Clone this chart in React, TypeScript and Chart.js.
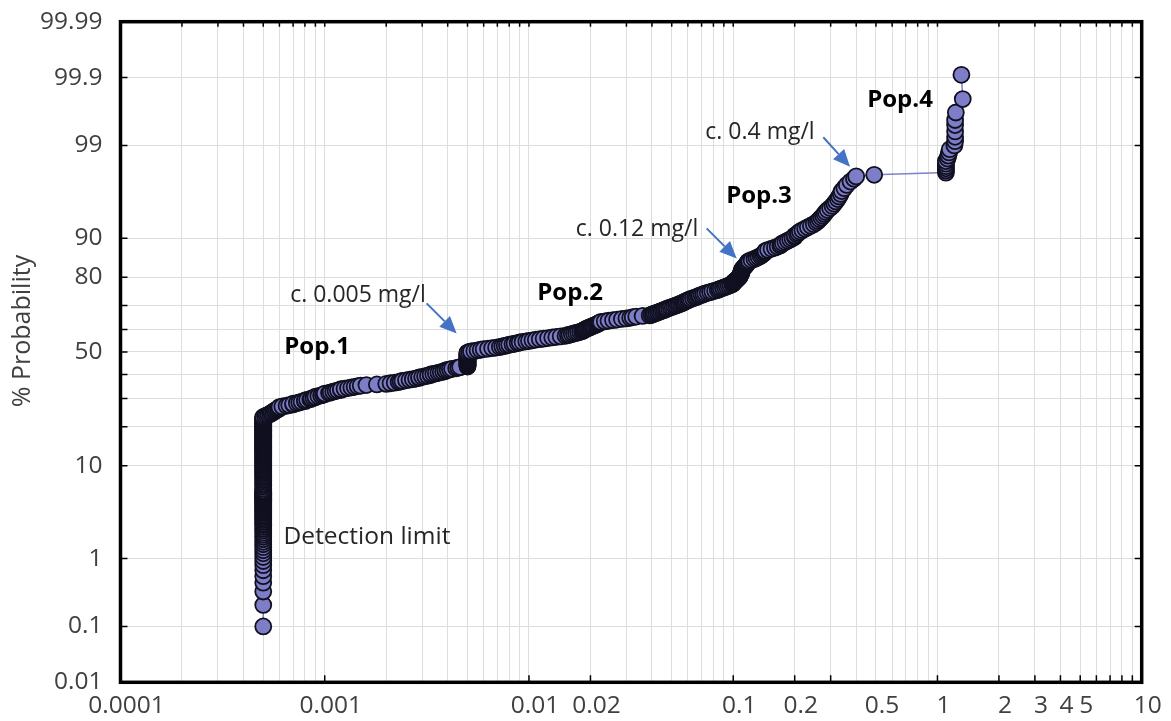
import React, { useEffect, useRef } from 'react';
import { Chart, registerables } from 'chart.js';

Chart.register(...registerables);

// ---------------- DATA ----------------
// Concentration (mg/l) on x, cumulative probability (%) on y.

// Values at the detection limit (vertical stack)
const detectionLimitX = 0.0005;
const detectionLimitProb = [
  0.1, 0.22, 0.35, 0.47, 0.58, 0.7, 0.82, 0.93, 1.05, 1.17, 1.28, 1.4, 1.52, 1.63, 1.75, 1.87,
  1.98, 2.1, 2.22, 2.33, 2.45, 2.57, 2.68, 2.8, 2.92, 3.03, 3.15, 3.27, 3.38, 3.5, 3.62, 3.73,
  3.85, 3.97, 4.08, 4.2, 4.32, 4.43, 4.55, 4.67, 4.78, 4.9, 5.02, 5.13, 5.25, 5.37, 5.48, 5.6,
  5.72, 5.83, 5.95, 6.2, 6.45, 6.7, 6.95, 7.2, 7.45, 7.7, 7.95, 8.2, 8.45, 8.7, 8.95, 9.2, 9.45,
  9.7, 9.95, 10.2, 10.45, 10.7, 10.95, 11.2, 11.45, 11.7, 11.95, 12.2, 12.45, 12.7, 12.95, 13.2,
  13.45, 13.7, 13.95, 14.2, 14.45, 14.7, 14.95, 15.2, 15.45, 15.7, 15.95, 16.2, 16.45, 16.7,
  16.95, 17.2, 17.45, 17.7, 17.95, 18.2, 18.45, 18.7, 18.95, 19.2, 19.45, 19.7, 19.95, 20.2,
  20.45, 20.7, 20.95, 21.2, 21.45, 21.7, 21.95, 22.2, 22.45, 22.7, 22.95, 23.2,
];

// Pop.1 sloping part [x, %]
const pop1Slope: [number, number][] = [
  [0.00051, 23.5], [0.00052, 23.75], [0.00053, 24.0], [0.00054, 24.25], [0.00055, 24.5],
  [0.00055, 24.75], [0.00056, 25.0], [0.00057, 25.25], [0.00057, 25.5], [0.00058, 25.75],
  [0.00059, 26.0], [0.0006, 26.25], [0.0006, 26.5], [0.0006, 26.75], [0.00062, 27.0],
  [0.00065, 27.25], [0.00067, 27.5], [0.0007, 27.75], [0.0007, 28.0], [0.00073, 28.25],
  [0.00075, 28.5], [0.00077, 28.75], [0.0008, 29.0], [0.0008, 29.25], [0.00082, 29.5],
  [0.00085, 29.75], [0.00086, 30.0], [0.00088, 30.25], [0.0009, 30.5], [0.0009, 30.75],
  [0.00093, 31.0], [0.00096, 31.25], [0.00098, 31.5], [0.001, 31.75], [0.001, 32.0],
  [0.00105, 32.25], [0.00107, 32.5], [0.0011, 32.75], [0.00113, 33.0], [0.00116, 33.25],
  [0.0012, 33.5], [0.0012, 33.75], [0.00125, 34.0], [0.0013, 34.25], [0.00135, 34.5],
  [0.0014, 34.75], [0.00145, 35.0], [0.0015, 35.25], [0.0016, 35.5], [0.0018, 35.75],
  [0.002, 36.0], [0.0021, 36.25], [0.0022, 36.5], [0.0023, 36.75], [0.00235, 37.0],
  [0.0024, 37.25], [0.0025, 37.5], [0.0026, 37.75], [0.0027, 38.0], [0.0028, 38.25],
  [0.0029, 38.5], [0.0029, 38.75], [0.003, 39.0], [0.0031, 39.25], [0.0032, 39.5],
  [0.0033, 39.75], [0.0033, 40.0], [0.0034, 40.25], [0.0035, 40.5], [0.0036, 40.75],
  [0.0037, 41.0], [0.0038, 41.25], [0.0039, 41.5], [0.0039, 41.75], [0.004, 42.0],
  [0.0041, 42.25], [0.0042, 42.5], [0.0044, 42.75], [0.0045, 43.0], [0.0046, 43.25],
];

// Values at c. 0.005 mg/l (vertical step)
const step005X = 0.005;
const step005Prob = [
  43.5, 43.75, 44.0, 44.25, 44.5, 44.75, 45.0, 45.25, 45.5, 45.75, 46.0, 46.25, 46.5,
  46.75, 47.0, 47.25, 47.5, 47.75, 48.0, 48.25, 48.5, 48.75, 49.0, 49.25, 49.5, 49.75,
];

// Pop.2 [x, %]
const pop2: [number, number][] = [
  [0.0051, 50.0], [0.0052, 50.25], [0.0054, 50.5], [0.0056, 50.75], [0.0058, 51.0],
  [0.006, 51.25], [0.0063, 51.5], [0.0066, 51.75], [0.0069, 52.0], [0.0072, 52.25],
  [0.0074, 52.5], [0.0076, 52.75], [0.0078, 53.0], [0.008, 53.25], [0.0083, 53.5],
  [0.0085, 53.75], [0.0088, 54.0], [0.009, 54.25], [0.0093, 54.5], [0.0097, 54.75],
  [0.01, 55.0], [0.0104, 55.25], [0.0108, 55.5], [0.0113, 55.75], [0.0118, 56.0],
  [0.0124, 56.25], [0.013, 56.5], [0.0136, 56.75], [0.0143, 57.0], [0.0151, 57.25],
  [0.0155, 57.5], [0.0158, 57.75], [0.0162, 58.0], [0.0166, 58.25], [0.017, 58.5],
  [0.0174, 58.75], [0.0178, 59.0], [0.0182, 59.25], [0.0184, 59.5], [0.0186, 59.75],
  [0.0188, 60.0], [0.019, 60.25], [0.0193, 60.5], [0.0196, 60.75], [0.0199, 61.0],
  [0.0202, 61.25], [0.0205, 61.5], [0.0208, 61.75], [0.0212, 62.0], [0.0215, 62.25],
  [0.0218, 62.5], [0.022, 62.75], [0.0222, 63.0], [0.0225, 63.25], [0.0235, 63.5],
  [0.0245, 63.75], [0.0258, 64.0], [0.027, 64.25], [0.0285, 64.5], [0.03, 64.75],
  [0.0313, 65.0], [0.0322, 65.25], [0.0335, 65.5], [0.036, 65.75], [0.039, 66.0],
  [0.0398, 66.25], [0.0405, 66.5], [0.0412, 66.75], [0.042, 67.0], [0.0428, 67.25],
  [0.0436, 67.5], [0.0444, 67.75], [0.0452, 68.0], [0.046, 68.25], [0.0468, 68.5],
  [0.0475, 68.75], [0.0485, 69.0], [0.0495, 69.25], [0.0505, 69.5], [0.0515, 69.75],
  [0.0525, 70.0], [0.0535, 70.25], [0.0545, 70.5], [0.0555, 70.75], [0.0565, 71.0],
  [0.0573, 71.25], [0.058, 71.5], [0.059, 71.75], [0.06, 72.0], [0.061, 72.25],
  [0.062, 72.5], [0.0635, 72.75], [0.065, 73.0], [0.0662, 73.25], [0.0675, 73.5],
  [0.0685, 73.75], [0.07, 74.0], [0.0715, 74.25], [0.073, 74.5], [0.075, 74.75],
  [0.077, 75.0], [0.079, 75.25], [0.0815, 75.5], [0.084, 75.75], [0.0855, 76.0],
  [0.087, 76.25], [0.089, 76.5], [0.091, 76.75], [0.093, 77.0], [0.095, 77.25],
  [0.097, 77.5], [0.099, 77.75], [0.1, 78.0], [0.1, 78.25], [0.101, 78.5],
  [0.102, 78.75], [0.103, 79.0], [0.104, 79.25], [0.105, 79.5], [0.106, 79.75],
  [0.107, 80.0],
];

// Pop.3 [x, %]
const pop3: [number, number][] = [
  [0.1075, 80.25], [0.108, 80.5], [0.1085, 80.75], [0.109, 81.0], [0.1093, 81.25],
  [0.1095, 81.5], [0.11, 81.75], [0.11, 82.0], [0.1105, 82.25], [0.111, 82.5],
  [0.112, 82.75], [0.113, 83.0], [0.114, 83.25], [0.115, 83.5], [0.116, 83.75],
  [0.117, 84.0], [0.1175, 84.25], [0.118, 84.5], [0.12, 84.75], [0.123, 85.0],
  [0.127, 85.25], [0.13, 85.5], [0.133, 85.75], [0.136, 86.0], [0.138, 86.25],
  [0.14, 86.5], [0.142, 86.75], [0.143, 87.0], [0.144, 87.25], [0.148, 87.5],
  [0.154, 87.75], [0.16, 88.0], [0.165, 88.25], [0.17, 88.5], [0.172, 88.75],
  [0.175, 89.0], [0.18, 89.25], [0.185, 89.5], [0.19, 89.75], [0.195, 90.0],
  [0.2, 90.25], [0.2, 90.5], [0.205, 90.75], [0.208, 91.0], [0.212, 91.25],
  [0.218, 91.5], [0.225, 91.75], [0.232, 92.0], [0.24, 92.25], [0.248, 92.5],
  [0.255, 92.75], [0.26, 93.0], [0.265, 93.25], [0.27, 93.5], [0.275, 93.75],
  [0.28, 94.0], [0.284, 94.25], [0.29, 94.5], [0.298, 94.75], [0.306, 95.0],
  [0.312, 95.25], [0.318, 95.5], [0.325, 95.75], [0.33, 96.0], [0.336, 96.25],
  [0.34, 96.5], [0.35, 96.75], [0.36, 97.0], [0.375, 97.25], [0.39, 97.45],
  [0.4, 97.6], [0.49, 97.7],
];

// Pop.4 [x, %]
const pop4: [number, number][] = [
  [1.1, 97.83], [1.1, 97.95], [1.1, 98.07], [1.1, 98.18], [1.1, 98.3], [1.1, 98.42],
  [1.12, 98.53], [1.13, 98.65], [1.14, 98.77], [1.15, 98.88], [1.21, 99.0], [1.22, 99.12],
  [1.22, 99.23], [1.22, 99.35], [1.22, 99.47], [1.22, 99.55], [1.23, 99.65], [1.33, 99.78],
  [1.31, 99.91],
];

// Axis ticks
const xTickValues = [0.0001, 0.001, 0.01, 0.02, 0.1, 0.2, 0.5, 1, 2, 3, 4, 5, 10];
const xTickLabels = ['0.0001', '0.001', '0.01', '0.02', '0.1', '0.2', '0.5', '1', '2', '3', '4', '5', '10'];
const xBottomTickMarks = [0.001, 0.01, 0.02, 0.1, 0.2, 0.3, 1, 2, 3, 4, 5, 6, 7, 8, 9];
const xDecades = [0.0001, 0.001, 0.01, 0.1, 1];
const xMinorMultipliers = [1, 2, 3, 4, 5, 6, 7, 8, 9];
const yGridProbs = [0.01, 0.1, 1, 10, 20, 30, 40, 50, 60, 70, 80, 90, 99, 99.9, 99.99];
const yTickLabels = ['0.01', '0.1', '1', '10', '', '', '', '50', '', '', '80', '90', '99', '99.9', '99.99'];

// Annotations (x in mg/l, p in %)
const annotations = [
  { text: 'Pop.1', x: 0.000917, p: 52.2, bold: true },
  { text: 'Pop.2', x: 0.0159, p: 74.7, bold: true },
  { text: 'Pop.3', x: 0.1337, p: 96.0, bold: true },
  { text: 'Pop.4', x: 0.6556, p: 99.77, bold: true },
  { text: 'c. 0.005 mg/l', x: 0.001455, p: 73.9, bold: false },
  { text: 'c. 0.12 mg/l', x: 0.0338, p: 91.7, bold: false },
  { text: 'c. 0.4 mg/l', x: 0.1352, p: 99.32, bold: false },
  { text: 'Detection limit', x: 0.00161, p: 1.86, bold: false, big: true },
];
const arrows = [
  { x1: 0.003155, p1: 70.8, x2: 0.004425, p2: 58.3 },
  { x1: 0.0741, p1: 91.8, x2: 0.104, p2: 85.4 },
  { x1: 0.2761, p1: 99.22, x2: 0.3731, p2: 98.15 },
];

// ---------------- HELPERS ----------------
function probit(p: number): number {
  const a = [-39.69683028665376, 220.9460984245205, -275.9285104469687, 138.357751867269, -30.66479806614716, 2.506628277459239];
  const b = [-54.47609879822406, 161.5858368580409, -155.6989798598866, 66.80131188771972, -13.28068155288572];
  const c = [-0.007784894002430293, -0.3223964580411365, -2.400758277161838, -2.549732539343734, 4.374664141464968, 2.938163982698783];
  const d = [0.007784695709041462, 0.3224671290700398, 2.445134137142996, 3.754408661907416];
  const plow = 0.02425;
  const phigh = 1 - plow;
  if (p < plow) {
    const q = Math.sqrt(-2 * Math.log(p));
    return (((((c[0] * q + c[1]) * q + c[2]) * q + c[3]) * q + c[4]) * q + c[5]) /
      ((((d[0] * q + d[1]) * q + d[2]) * q + d[3]) * q + 1);
  }
  if (p <= phigh) {
    const q = p - 0.5;
    const r = q * q;
    return (((((a[0] * r + a[1]) * r + a[2]) * r + a[3]) * r + a[4]) * r + a[5]) * q /
      (((((b[0] * r + b[1]) * r + b[2]) * r + b[3]) * r + b[4]) * r + 1);
  }
  const q = Math.sqrt(-2 * Math.log(1 - p));
  return -(((((c[0] * q + c[1]) * q + c[2]) * q + c[3]) * q + c[4]) * q + c[5]) /
    ((((d[0] * q + d[1]) * q + d[2]) * q + d[3]) * q + 1);
}
const z = (pct: number) => probit(pct / 100);

const xGridValues: number[] = [];
xDecades.forEach((dec) => xMinorMultipliers.forEach((m) => xGridValues.push(m * dec)));
xGridValues.push(10);

function xLabelFor(v: number): string {
  for (let i = 0; i < xTickValues.length; i++) {
    if (Math.abs(v - xTickValues[i]) / xTickValues[i] < 1e-6) return xTickLabels[i];
  }
  return '';
}

const FONT = '"Open Sans", "DejaVu Sans", sans-serif';

const overlayPlugin = {
  id: 'overlay',
  afterDraw(chart: any) {
    const { ctx, chartArea: ca, scales } = chart;
    const xs = scales.x;
    const ys = scales.y;
    const X = (v: number) => xs.getPixelForValue(v);
    const Y = (p: number) => ys.getPixelForValue(z(p));
    ctx.save();

    // inner tick marks
    ctx.strokeStyle = '#000';
    ctx.lineWidth = 1.5;
    ctx.beginPath();
    yGridProbs.forEach((p) => {
      const py = Y(p);
      ctx.moveTo(ca.left, py); ctx.lineTo(ca.left + 7, py);
      ctx.moveTo(ca.right - 7, py); ctx.lineTo(ca.right, py);
    });
    xBottomTickMarks.forEach((v) => {
      const px = X(v);
      ctx.moveTo(px, ca.bottom); ctx.lineTo(px, ca.bottom - 7);
    });
    xGridValues.forEach((v) => {
      const px = X(v);
      ctx.moveTo(px, ca.top); ctx.lineTo(px, ca.top + 5);
    });
    ctx.stroke();

    // frame
    ctx.lineWidth = 3.5;
    ctx.strokeRect(ca.left, ca.top, ca.right - ca.left, ca.bottom - ca.top);

    // y axis title
    ctx.save();
    ctx.fillStyle = '#404040';
    ctx.font = `25px ${FONT}`;
    ctx.textAlign = 'center';
    ctx.textBaseline = 'middle';
    ctx.translate(23, (ca.top + ca.bottom) / 2 - 21);
    ctx.rotate(-Math.PI / 2);
    ctx.fillText('% Probability', 0, 0);
    ctx.restore();

    // annotations
    ctx.textAlign = 'center';
    ctx.textBaseline = 'middle';
    annotations.forEach((a: any) => {
      if (a.bold) {
        ctx.font = `bold 24px ${FONT}`;
        ctx.fillStyle = '#000';
      } else {
        ctx.font = `${a.big ? 24.5 : 23}px ${FONT}`;
        ctx.fillStyle = '#262626';
      }
      ctx.fillText(a.text, X(a.x), Y(a.p));
    });

    // arrows
    ctx.strokeStyle = '#4472C4';
    ctx.fillStyle = '#4472C4';
    ctx.lineWidth = 2;
    arrows.forEach((ar) => {
      const x1 = X(ar.x1), y1 = Y(ar.p1), x2 = X(ar.x2), y2 = Y(ar.p2);
      const ang = Math.atan2(y2 - y1, x2 - x1);
      const headLen = 17, headW = 7.5;
      const bx = x2 - headLen * Math.cos(ang), by = y2 - headLen * Math.sin(ang);
      ctx.beginPath();
      ctx.moveTo(x1, y1);
      ctx.lineTo(bx, by);
      ctx.stroke();
      ctx.beginPath();
      ctx.moveTo(x2, y2);
      ctx.lineTo(bx + headW * Math.sin(ang), by - headW * Math.cos(ang));
      ctx.lineTo(bx - headW * Math.sin(ang), by + headW * Math.cos(ang));
      ctx.closePath();
      ctx.fill();
    });

    ctx.restore();
  },
};

export default function App() {
  const canvasRef = useRef<HTMLCanvasElement | null>(null);

  useEffect(() => {
    const canvas = canvasRef.current;
    if (!canvas) return;

    const points: { x: number; y: number }[] = [];
    detectionLimitProb.forEach((p) => points.push({ x: detectionLimitX, y: z(p) }));
    pop1Slope.forEach(([x, p]) => points.push({ x, y: z(p) }));
    step005Prob.forEach((p) => points.push({ x: step005X, y: z(p) }));
    pop2.forEach(([x, p]) => points.push({ x, y: z(p) }));
    pop3.forEach(([x, p]) => points.push({ x, y: z(p) }));
    pop4.forEach(([x, p]) => points.push({ x, y: z(p) }));

    const zMin = z(yGridProbs[0]);
    const zMax = z(yGridProbs[yGridProbs.length - 1]);

    const chart = new Chart(canvas, {
      type: 'scatter',
      data: {
        datasets: [
          {
            data: points,
            showLine: true,
            borderColor: '#8080CC',
            borderWidth: 1.5,
            pointRadius: 8,
            pointHoverRadius: 8,
            pointBackgroundColor: '#7E7EC8',
            pointBorderColor: '#101020',
            pointBorderWidth: 1.8,
          },
        ],
      },
      options: {
        responsive: false,
        animation: false,
        devicePixelRatio: 1,
        layout: { padding: { top: 21.7, right: 29.3, bottom: 0, left: 0 } },
        plugins: { legend: { display: false }, tooltip: { enabled: false }, title: { display: false } },
        events: [],
        scales: {
          x: {
            type: 'logarithmic',
            min: 0.0001,
            max: 10,
            afterBuildTicks: (axis: any) => {
              axis.ticks = xGridValues.map((v) => ({ value: v }));
            },
            afterFit: (axis: any) => {
              axis.height = 38.7;
              axis.paddingLeft = 0;
              axis.paddingRight = 0;
            },
            grid: { color: '#dedede', lineWidth: 1, drawTicks: false },
            border: { display: false },
            ticks: {
              autoSkip: false,
              maxRotation: 0,
              minRotation: 0,
              padding: 9,
              labelOffset: 6,
              color: '#404040',
              font: { family: FONT, size: 24.5 },
              callback: (v: any) => xLabelFor(Number(v)),
            },
          },
          y: {
            type: 'linear',
            min: zMin,
            max: zMax,
            afterBuildTicks: (axis: any) => {
              axis.ticks = yGridProbs.map((p) => ({ value: z(p) }));
            },
            afterFit: (axis: any) => {
              axis.width = 120.5;
              axis.paddingTop = 0;
              axis.paddingBottom = 0;
            },
            grid: { color: '#dedede', lineWidth: 1, drawTicks: false },
            border: { display: false },
            ticks: {
              autoSkip: false,
              padding: 18,
              color: '#404040',
              font: { family: FONT, size: 24.5 },
              callback: (_v: any, i: number) => yTickLabels[i],
            },
          },
        },
      },
      plugins: [overlayPlugin],
    });

    return () => chart.destroy();
  }, []);

  return (
    <div style={{ position: 'fixed', left: 0, top: 0, width: 1171, height: 721, background: '#fff' }}>
      <canvas ref={canvasRef} width={1171} height={721} style={{ display: 'block', width: 1171, height: 721 }} />
    </div>
  );
}
